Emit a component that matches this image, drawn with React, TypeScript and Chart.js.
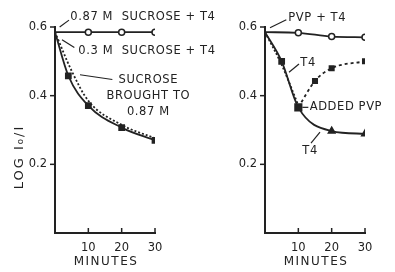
import React, { useEffect, useRef } from 'react';
import { Chart, registerables } from 'chart.js';
Chart.register(...registerables);

// Left panel data
const minutes087 = [0, 10, 20, 30];
const sucrose087T4 = [0.585, 0.585, 0.585, 0.585];
const minutesBrought = [0, 4, 10, 20, 30];
const sucroseBrought = [0.585, 0.458, 0.371, 0.307, 0.27];
const minutes03 = [0, 5, 10, 20, 30];
const sucrose03T4 = [0.585, 0.472, 0.385, 0.315, 0.276];

// Right panel data
const minutesPvp = [0, 10, 20, 30];
const pvpT4 = [0.585, 0.583, 0.572, 0.57];
const minutesT4 = [0, 5, 10, 20, 30];
const t4 = [0.585, 0.5, 0.366, 0.297, 0.289];
const minutesT4Dotted = [0, 5, 10];
const t4Dotted = [0.585, 0.49, 0.372];
const minutesAdded = [10, 15, 20, 30];
const addedPvp = [0.366, 0.443, 0.48, 0.5];

const xTicks = [10, 20, 30];
const yTicks = [0.2, 0.4, 0.6];
const xTitle = 'MINUTES';
const yTitle = 'LOG I\u2080/I';

const INK = '#222';
const FONT = '"DejaVu Sans", sans-serif';

const pts = (xs: number[], ys: number[]) => xs.map((x, i) => ({ x, y: ys[i] }));

type Note = { lines: string[]; x: number; y: number; align: CanvasTextAlign; lead?: [number, number, number, number] };

const notesPlugin = {
  id: 'notes',
  afterDraw(chart: any, _args: any, opts: any) {
    const ctx = chart.ctx;
    const xs = chart.scales.x;
    const ys = chart.scales.y;
    const area = chart.chartArea;
    ctx.save();
    ctx.strokeStyle = INK;
    ctx.fillStyle = INK;
    // tick marks
    ctx.lineWidth = 1.5;
    xTicks.forEach((v) => {
      const px = xs.getPixelForValue(v);
      ctx.beginPath();
      ctx.moveTo(px, area.bottom);
      ctx.lineTo(px, area.bottom - 5);
      ctx.stroke();
    });
    yTicks.forEach((v) => {
      const py = ys.getPixelForValue(v);
      ctx.beginPath();
      ctx.moveTo(area.left, py);
      ctx.lineTo(area.left - 5, py);
      ctx.stroke();
    });
    ctx.font = '11.5px ' + FONT;
    (ctx as any).letterSpacing = '0.6px';
    ctx.textBaseline = 'middle';
    (opts.notes as Note[]).forEach((n) => {
      ctx.textAlign = n.align;
      const px = xs.getPixelForValue(n.x);
      n.lines.forEach((line, i) => {
        const py = ys.getPixelForValue(n.y) + i * 16;
        ctx.fillText(line, px, py);
      });
      if (n.lead) {
        ctx.lineWidth = 1.2;
        ctx.beginPath();
        ctx.moveTo(xs.getPixelForValue(n.lead[0]), ys.getPixelForValue(n.lead[1]));
        ctx.lineTo(xs.getPixelForValue(n.lead[2]), ys.getPixelForValue(n.lead[3]));
        ctx.stroke();
      }
    });
    // x axis title
    ctx.font = '12px ' + FONT;
    (ctx as any).letterSpacing = '1.5px';
    ctx.textAlign = 'center';
    ctx.fillText(xTitle, (area.left + area.right) / 2 + 1, 262);
    if (opts.yTitle) {
      ctx.translate(20, 157);
      ctx.rotate(-Math.PI / 2);
      ctx.textAlign = 'center';
      ctx.font = '13px ' + FONT;
      (ctx as any).letterSpacing = '2px';
      ctx.fillText(yTitle, 0, 0);
    }
    ctx.restore();
  },
};

function makeConfig(datasets: any[], notes: Note[], axisLeft: number, rightPad: number, showYTitle: boolean): any {
  return {
    type: 'line',
    data: { datasets },
    plugins: [notesPlugin],
    options: {
      animation: false,
      responsive: false,
      layout: { autoPadding: false, padding: { left: 0, top: 27, right: rightPad, bottom: 0 } },
      plugins: { legend: { display: false }, tooltip: { enabled: false }, notes: { notes, yTitle: showYTitle } },
      scales: {
        x: {
          type: 'linear',
          min: 0,
          max: 30,
          afterFit: (s: any) => { s.height = 39; },
          afterBuildTicks: (s: any) => { s.ticks = xTicks.map((v) => ({ value: v })); },
          grid: { display: false },
          border: { display: true, color: INK, width: 2 },
          ticks: { color: INK, font: { family: FONT, size: 11.5 }, padding: 0, callback: (v: any) => String(v) },
        },
        y: {
          type: 'linear',
          min: 0,
          max: 0.6,
          afterFit: (s: any) => { s.width = axisLeft; },
          afterBuildTicks: (s: any) => { s.ticks = yTicks.map((v) => ({ value: v })); },
          grid: { display: false },
          border: { display: true, color: INK, width: 2 },
          ticks: { color: INK, font: { family: FONT, size: 11.5 }, padding: 0, callback: (v: any) => Number(v).toFixed(1) },
        },
      },
    },
  };
}

const base = {
  borderColor: INK,
  backgroundColor: INK,
  pointBorderColor: INK,
  borderWidth: 1.8,
  cubicInterpolationMode: 'monotone',
};

const leftDatasets = [
  {
    ...base,
    data: pts(minutes087, sucrose087T4),
    pointStyle: 'circle',
    pointRadius: (c: any) => (c.parsed.x === 0 ? 0 : 3),
    pointBackgroundColor: '#fff',
    pointBorderWidth: 1.5,
  },
  {
    ...base,
    data: pts(minutesBrought, sucroseBrought),
    pointStyle: 'rect',
    pointRadius: (c: any) => (c.parsed.x === 0 ? 0 : 3.5),
    pointBackgroundColor: INK,
  },
  {
    ...base,
    data: pts(minutes03, sucrose03T4),
    borderDash: [2, 2],
    pointRadius: 0,
  },
];

const rightDatasets = [
  {
    ...base,
    data: pts(minutesPvp, pvpT4),
    pointStyle: 'circle',
    pointRadius: (c: any) => (c.parsed.x === 0 ? 0 : 3),
    pointBackgroundColor: '#fff',
    pointBorderWidth: 1.5,
  },
  {
    ...base,
    data: pts(minutesT4, t4),
    pointStyle: (c: any) => (c.parsed.x > 10 ? 'triangle' : 'rect'),
    pointRadius: (c: any) => (c.parsed.x === 0 ? 0 : c.parsed.x === 10 ? 4.5 : 3.5),
    pointBackgroundColor: INK,
  },
  {
    ...base,
    data: pts(minutesT4Dotted, t4Dotted),
    borderDash: [2, 2],
    pointRadius: 0,
  },
  {
    ...base,
    data: pts(minutesAdded, addedPvp),
    borderDash: [3, 3],
    pointStyle: 'rect',
    pointRadius: (c: any) => (c.parsed.x === 10 ? 0 : 3),
    pointBackgroundColor: INK,
  },
];

const leftNotes: Note[] = [
  { lines: ['0.87 M  SUCROSE + T4'], x: 4.6, y: 0.63, align: 'left', lead: [1.4, 0.6, 4.2, 0.62] },
  { lines: ['0.3 M  SUCROSE + T4'], x: 7.0, y: 0.531, align: 'left', lead: [2.1, 0.563, 5.8, 0.54] },
  { lines: ['SUCROSE', 'BROUGHT TO', '0.87 M'], x: 28.0, y: 0.445, align: 'center', lead: [7.5, 0.461, 17.2, 0.447] },
];

const rightNotes: Note[] = [
  { lines: ['PVP + T4'], x: 7.0, y: 0.627, align: 'left', lead: [1.5, 0.598, 6.4, 0.621] },
  { lines: ['T4'], x: 10.6, y: 0.496, align: 'left', lead: [7.2, 0.468, 10.2, 0.492] },
  { lines: ['ADDED PVP'], x: 13.4, y: 0.366, align: 'left', lead: [11.2, 0.366, 13.0, 0.366] },
  { lines: ['T4'], x: 11.2, y: 0.24, align: 'left', lead: [16.5, 0.294, 13.8, 0.262] },
];

function Panel({ datasets, notes, left, width, axisLeft, rightPad, showYTitle }: any) {
  const ref = useRef<HTMLCanvasElement>(null);
  useEffect(() => {
    const chart = new Chart(ref.current as HTMLCanvasElement, makeConfig(datasets, notes, axisLeft, rightPad, showYTitle));
    return () => chart.destroy();
  }, []);
  return (
    <canvas
      ref={ref}
      width={width}
      height={272}
      style={{ position: 'absolute', left, top: 0, width, height: 272 }}
    />
  );
}

export default function App() {
  return (
    <div style={{ position: 'fixed', left: 0, top: 0, width: 395, height: 272, background: '#fff', overflow: 'hidden' }}>
      <Panel datasets={leftDatasets} notes={leftNotes} left={0} width={225} axisLeft={55} rightPad={70} showYTitle={true} />
      <Panel datasets={rightDatasets} notes={rightNotes} left={200} width={195} axisLeft={65} rightPad={30} showYTitle={false} />
    </div>
  );
}
